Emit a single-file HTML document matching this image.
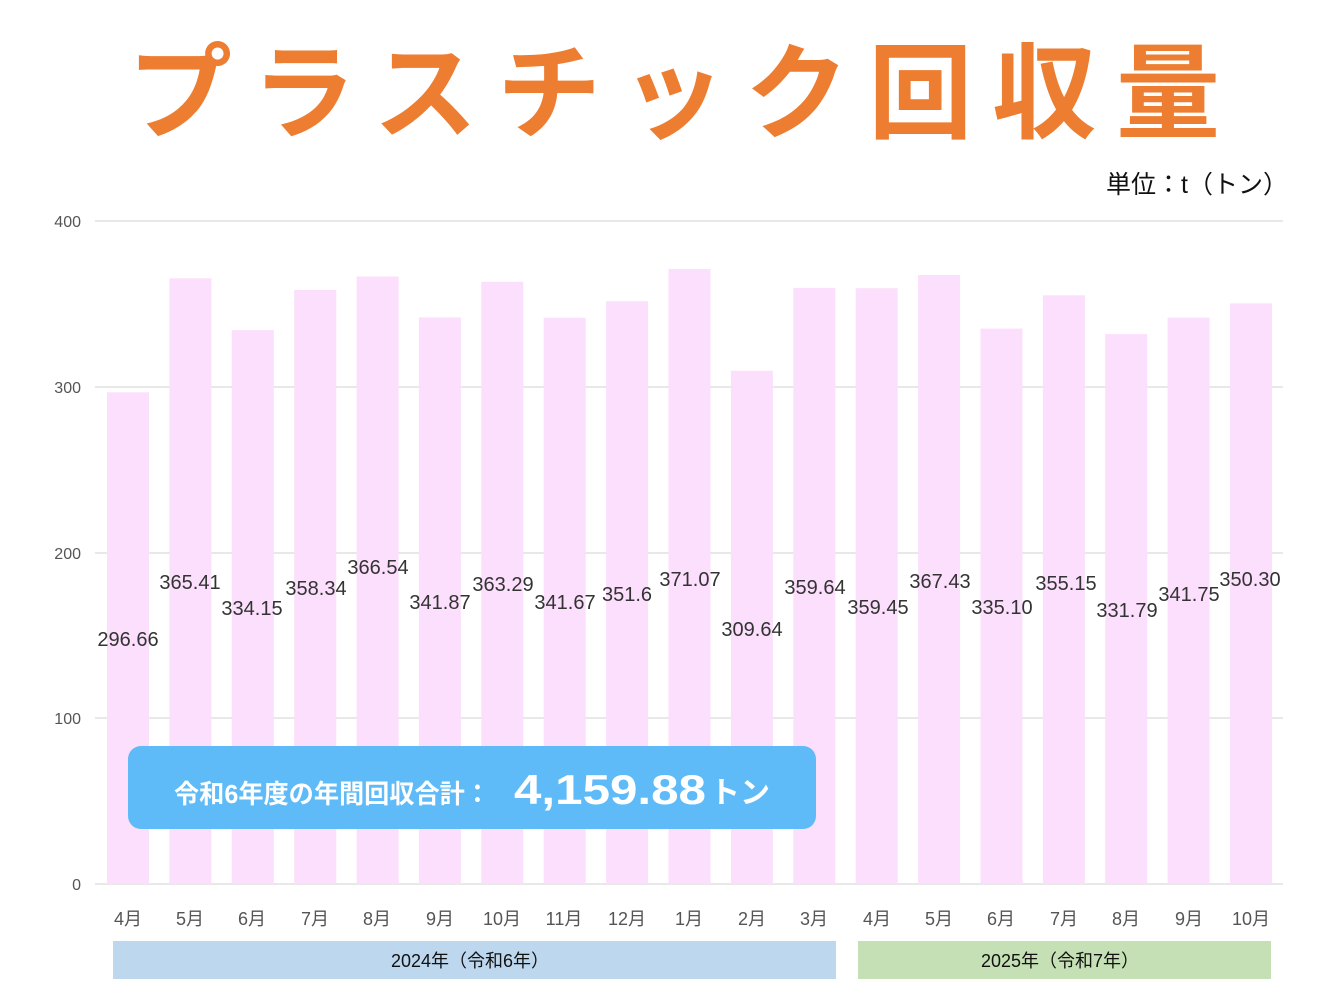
<!DOCTYPE html>
<html><head><meta charset="utf-8"><style>
html,body{margin:0;padding:0;background:#fff;}
svg{display:block;font-family:"Liberation Sans","Noto Sans CJK JP",sans-serif;}
</style></head><body>
<svg width="1344" height="1008" viewBox="0 0 1344 1008" xmlns="http://www.w3.org/2000/svg">
<text x="128" y="130" font-size="104" font-weight="bold" fill="#ED7D31" textLength="1092" lengthAdjust="spacing" font-family="Noto Sans CJK JP, sans-serif">プラスチック回収量</text>
<text x="1288" y="193" font-size="25" fill="#111" text-anchor="end">単位：t（トン）</text>
<g stroke="#d9d9d9" stroke-width="1.2">
<line x1="95" y1="221" x2="1283" y2="221"/><line x1="95" y1="387" x2="1283" y2="387"/>
<line x1="95" y1="553" x2="1283" y2="553"/><line x1="95" y1="718" x2="1283" y2="718"/>
<line x1="95" y1="884" x2="1283" y2="884"/>
</g>
<g font-size="16" fill="#555" text-anchor="end">
<text x="81" y="227">400</text><text x="81" y="393">300</text><text x="81" y="559">200</text><text x="81" y="724">100</text><text x="81" y="890">0</text>
</g>
<g fill="#FCDFFC">
<rect x="107" y="392.3" width="42" height="491.7"/>
<rect x="169.4" y="278.3" width="42" height="605.7"/>
<rect x="231.8" y="330.1" width="42" height="553.9"/>
<rect x="294.2" y="290" width="42" height="594"/>
<rect x="356.6" y="276.5" width="42" height="607.5"/>
<rect x="418.9" y="317.4" width="42" height="566.6"/>
<rect x="481.3" y="281.8" width="42" height="602.2"/>
<rect x="543.7" y="317.7" width="42" height="566.3"/>
<rect x="606.1" y="301.2" width="42" height="582.8"/>
<rect x="668.5" y="269" width="42" height="615"/>
<rect x="730.9" y="370.8" width="42" height="513.2"/>
<rect x="793.3" y="287.9" width="42" height="596.1"/>
<rect x="855.7" y="288.2" width="42" height="595.8"/>
<rect x="918.1" y="275" width="42" height="609"/>
<rect x="980.5" y="328.6" width="42" height="555.4"/>
<rect x="1042.9" y="295.3" width="42" height="588.7"/>
<rect x="1105.2" y="334.1" width="42" height="549.9"/>
<rect x="1167.6" y="317.6" width="42" height="566.4"/>
<rect x="1230" y="303.4" width="42" height="580.6"/>
</g>
<g font-size="20" fill="#333" text-anchor="middle">
<text x="128" y="646">296.66</text><text x="190" y="589">365.41</text><text x="252" y="615">334.15</text>
<text x="316" y="595">358.34</text><text x="378" y="574">366.54</text><text x="440" y="609">341.87</text>
<text x="503" y="591">363.29</text><text x="565" y="609">341.67</text><text x="627" y="601">351.6</text>
<text x="690" y="586">371.07</text><text x="752" y="636">309.64</text><text x="815" y="594">359.64</text>
<text x="878" y="614">359.45</text><text x="940" y="588">367.43</text><text x="1002" y="614">335.10</text>
<text x="1066" y="590">355.15</text><text x="1127" y="617">331.79</text><text x="1189" y="601">341.75</text>
<text x="1250" y="586">350.30</text>
</g>
<g font-size="18" fill="#555" text-anchor="middle">
<text x="128" y="925">4月</text><text x="190" y="925">5月</text><text x="252" y="925">6月</text><text x="315" y="925">7月</text>
<text x="377" y="925">8月</text><text x="440" y="925">9月</text><text x="502" y="925">10月</text><text x="564" y="925">11月</text>
<text x="627" y="925">12月</text><text x="689" y="925">1月</text><text x="752" y="925">2月</text><text x="814" y="925">3月</text>
<text x="877" y="925">4月</text><text x="939" y="925">5月</text><text x="1001" y="925">6月</text><text x="1064" y="925">7月</text>
<text x="1126" y="925">8月</text><text x="1189" y="925">9月</text><text x="1251" y="925">10月</text>
</g>
<rect x="113" y="941" width="723" height="38" fill="#BDD7EE"/>
<rect x="858" y="941" width="413" height="38" fill="#C5E0B4"/>
<text x="470" y="967" font-size="18" fill="#111" text-anchor="middle">2024年（令和6年）</text>
<text x="1060" y="967" font-size="18" fill="#111" text-anchor="middle">2025年（令和7年）</text>
<rect x="128" y="746" width="688" height="83" rx="13" fill="#5EBBF7"/>
<text x="174" y="803" font-size="26" font-weight="bold" fill="#fff" textLength="316" lengthAdjust="spacingAndGlyphs">令和6年度の年間回収合計：</text>
<text x="514" y="804" font-size="42" font-weight="bold" fill="#fff" textLength="192" lengthAdjust="spacingAndGlyphs">4,159.88</text>
<text x="710" y="803" font-size="30" font-weight="bold" fill="#fff" textLength="60" lengthAdjust="spacingAndGlyphs">トン</text>
</svg>
</body></html>
